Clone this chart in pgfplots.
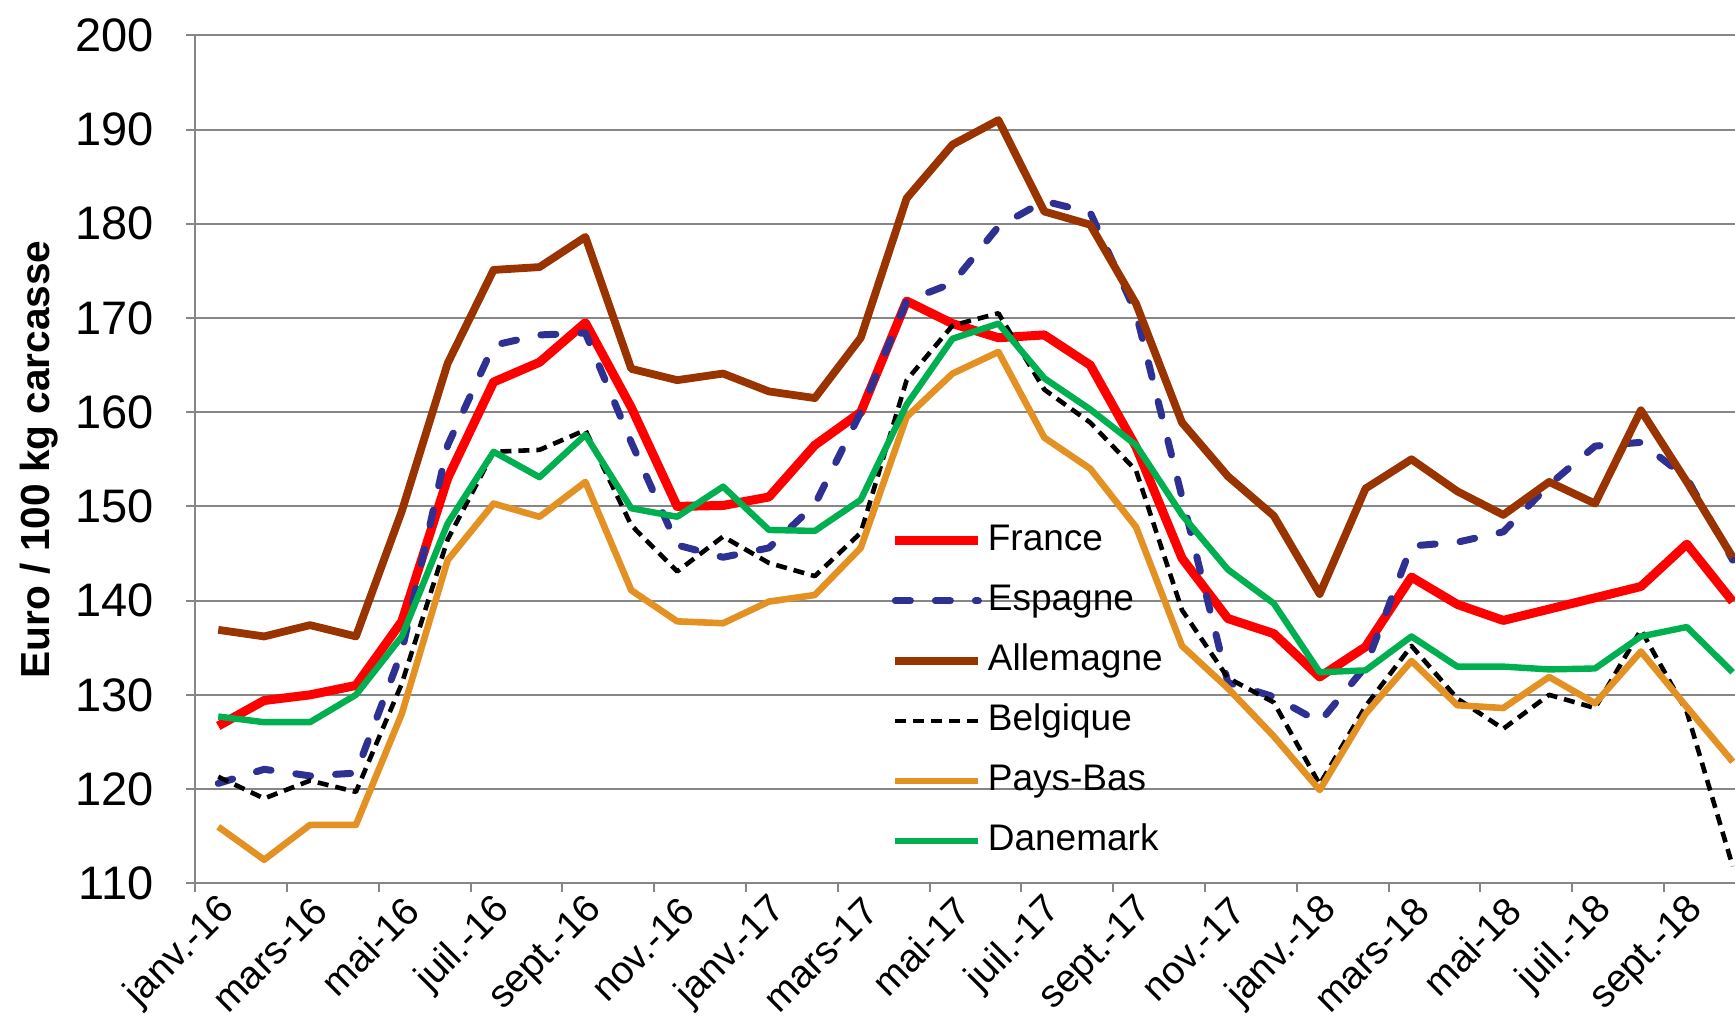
\documentclass[border=0pt]{standalone}
\usepackage{pgfplots}
\pgfplotsset{compat=1.18}
\usepackage{pgfplotstable}
\usepackage{fontspec}
\setmainfont{Liberation Sans}
\definecolor{cfr}{RGB}{255,0,0}
\definecolor{ces}{RGB}{46,49,146}
\definecolor{cde}{RGB}{153,51,0}
\definecolor{cnl}{RGB}{228,145,35}
\definecolor{cdk}{RGB}{0,176,80}
\definecolor{cgrid}{RGB}{134,134,134}

\pgfplotstableread{
i fr es de be nl dk
0 126.7 120.6 136.9 121.3 116.0 127.7
1 129.4 122.1 136.2 119.0 112.5 127.1
2 130.0 121.4 137.4 120.9 116.2 127.1
3 131.0 121.7 136.2 119.7 116.2 130.0
4 137.8 134.6 149.5 131.2 128.0 136.2
5 153.0 156.5 165.2 146.5 144.3 148.2
6 163.2 167.1 175.1 155.8 150.3 155.8
7 165.3 168.2 175.4 156.0 148.9 153.1
8 169.5 168.4 178.6 158.1 152.6 157.6
9 160.5 156.8 164.6 148.0 141.1 149.8
10 150.0 145.9 163.4 143.1 137.8 148.9
11 150.1 144.6 164.1 146.8 137.6 152.1
12 151.0 145.6 162.2 144.0 139.9 147.5
13 156.5 150.2 161.5 142.6 140.6 147.4
14 160.0 160.0 167.9 147.2 145.6 150.7
15 171.8 171.8 182.7 163.4 159.5 160.8
16 169.4 173.7 188.4 169.2 164.1 167.8
17 167.9 179.7 191.0 170.5 166.4 169.4
18 168.2 182.4 181.3 162.4 157.3 163.6
19 165.0 181.2 179.9 158.9 154.0 160.3
20 156.3 170.5 171.5 153.8 147.8 156.5
21 144.5 151.0 158.9 139.0 135.2 149.1
22 138.1 131.3 153.2 131.8 130.7 143.3
23 136.5 129.8 149.0 129.2 125.6 139.7
24 131.9 127.1 140.7 120.5 119.9 132.4
25 135.1 133.0 151.9 128.8 128.0 132.6
26 142.5 145.8 155.0 135.2 133.6 136.2
27 139.6 146.2 151.6 129.6 128.9 133.0
28 137.9 147.3 149.1 126.4 128.6 133.0
29 139.1 152.3 152.6 130.0 131.9 132.7
30 140.3 156.4 150.3 128.6 129.1 132.8
31 141.5 156.8 160.2 136.9 134.6 136.2
32 146.0 153.0 152.6 128.2 128.7 137.2
33 139.9 144.3 144.6 111.8 122.9 132.4
}\data

\begin{document}
\begin{tikzpicture}
\begin{axis}[
  scale only axis, width=769.85pt, height=424pt,
  xmin=-0.5, xmax=33.05, ymin=110, ymax=200,
  axis x line*=bottom, axis y line*=left,
  axis line style={cgrid, line width=1pt},
  ytick={110,120,...,200},
  ymajorgrids, grid style={cgrid, line width=1pt},
  xtick={0,2,...,32},
  xticklabels={janv.-16,mars-16,mai-16,juil.-16,sept.-16,nov.-16,janv.-17,mars-17,mai-17,juil.-17,sept.-17,nov.-17,janv.-18,mars-18,mai-18,juil.-18,sept.-18},
  minor xtick={-0.5,1.5,...,33.5},
  tick align=outside,
  major tick length=4.5pt, minor tick length=4.5pt,
  major x tick style={draw=none},
  minor x tick style={cgrid, line width=1pt},
  y tick style={cgrid, line width=1pt},
  /pgf/number format/assume math mode=true,
  yticklabel style={font=\fontsize{23.5}{23.5}\selectfont, xshift=-12.7pt},
  xticklabel style={font=\fontsize{19.5}{19.5}\selectfont, rotate=45, anchor=east, xshift=3pt, yshift=-8pt},
  ylabel={Euro / 100 kg carcasse},
  ylabel style={font=\bfseries\fontsize{20.3}{20.3}\selectfont, at={(axis description cs:-0.1015,0.5)}, anchor=center},
  legend style={draw=none, fill=none, at={(axis description cs:0.4515,0.4248)}, anchor=north west, inner sep=0pt, font=\fontsize{18.5}{18.5}\selectfont, row sep=12.5pt, nodes={inner sep=0pt, text height=13.5pt, text depth=4pt}, /tikz/every odd column/.style={column sep=2.5pt}},
  legend cell align=left,
  legend image code/.code={\draw[#1] (0pt,0pt) -- (41.5pt,0pt);},
]
\addplot[cfr, line width=4.5pt, line join=round] table[x=i,y=fr]{\data};
\addlegendentry{France}
\addplot[ces, line width=3.5pt, line join=round, line cap=round, dash pattern=on 7.5pt off 12.5pt] table[x=i,y=es]{\data};
\addlegendentry{Espagne}
\addplot[cde, line width=3.9pt, line join=round] table[x=i,y=de]{\data};
\addlegendentry{Allemagne}
\addplot[black, line width=2.3pt, line join=round, dash pattern=on 5.5pt off 3.5pt] table[x=i,y=be]{\data};
\addlegendentry{Belgique}
\addplot[cnl, line width=3.3pt, line join=round] table[x=i,y=nl]{\data};
\addlegendentry{Pays-Bas}
\addplot[cdk, line width=3.2pt, line join=round] table[x=i,y=dk]{\data};
\addlegendentry{Danemark}
\end{axis}
\pgfresetboundingbox
\useasboundingbox (-97.65pt,-71.85pt) rectangle (769.85pt,441.65pt);
\end{tikzpicture}
\end{document}
